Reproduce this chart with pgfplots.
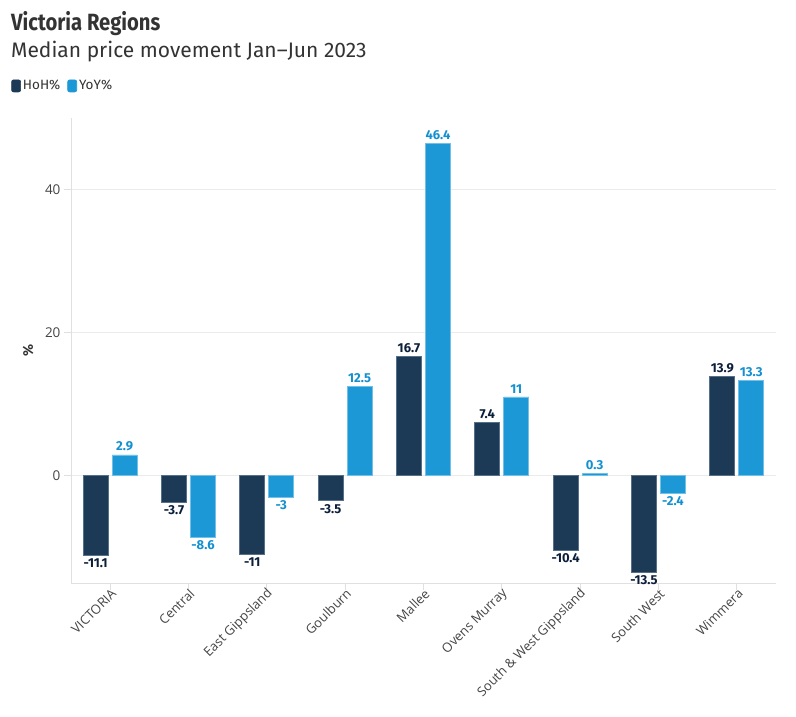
\documentclass[border=0pt]{standalone}
\usepackage{fontspec}
\setmainfont{Fira Sans}
\newfontfamily\ticksfont{Open Sans}
\usepackage{pgfplots}
\pgfplotsset{compat=1.18}
\definecolor{hoh}{HTML}{1C3A56}
\definecolor{hohedge}{HTML}{56708A}
\definecolor{hohlab}{HTML}{0B1F3A}
\definecolor{yoy}{HTML}{1B98D5}
\definecolor{yoyedge}{HTML}{72C0E8}
\definecolor{yoylab}{HTML}{1490D0}
\definecolor{gridc}{HTML}{EBEBEB}
\definecolor{axc}{HTML}{E0E0E0}
\definecolor{labc}{HTML}{444444}
\definecolor{titc}{HTML}{333333}
\begin{document}
\begin{tikzpicture}[x=1pt,y=1pt]
\path[use as bounding box] (0,0) rectangle (796,717);
\node[anchor=base west, inner sep=0, text=titc] at (11,686) {\fontsize{23.5}{26}\selectfont\bfseries\scalebox{0.86}[1]{Victoria Regions}};
\node[anchor=base west, inner sep=0, text=titc] at (11,659) {\fontsize{21}{24}\selectfont Median price movement Jan–Jun 2023};
\begin{axis}[
  at={(71pt,134pt)}, anchor=south west,
  scale only axis, width=705pt, height=465pt,
  ybar=4pt, bar width=25pt,
  xmin=-0.5, xmax=8.5, ymin=-15, ymax=50,
  xtick={0,...,8},
  xticklabels={VICTORIA,Central,East Gippsland,Goulburn,Mallee,Ovens Murray,South \& West Gippsland,South West,Wimmera},
  ytick={0,20,40},
  ymajorgrids, grid style={color=gridc, line width=0.8pt},
  axis x line*=bottom, axis y line*=left,
  axis line style={color=axc, line width=0.8pt},
  tick style={color=axc, line width=0.8pt},
  major tick length=7pt, tick align=outside,
  /pgf/number format/assume math mode=true,
  yticklabel style={font=\ticksfont\fontsize{13.5}{15}\selectfont, text=labc},
  xticklabel style={xshift=6pt, yshift=1pt, rotate=45, anchor=east, font=\ticksfont\fontsize{13}{15}\selectfont, text=labc},
  ylabel={\bfseries\%},
  every axis y label/.style={at={(axis description cs:-0.061,0.5)}, rotate=90, anchor=center, font=\fontsize{14}{16}\selectfont, text=titc},
  nodes near coords,
  nodes near coords style={font=\bfseries\fontsize{13}{15}\selectfont},
  legend style={at={(axis description cs:-0.085,1.069)}, anchor=west, draw=none, fill=none, inner sep=0pt,
    legend columns=2, font=\fontsize{13.5}{15}\selectfont, text=titc,
    /tikz/every even column/.append style={column sep=5pt}},
  legend cell align=left,
]
\addplot[fill=hoh, draw=hohedge, line width=0.7pt,
  every node near coord/.append style={text=hohlab},
  legend image code/.code={\fill[hoh, rounded corners=2pt] (0pt,-6pt) rectangle (9pt,6pt);}]
  coordinates {(0,-11.1) (1,-3.7) (2,-11) (3,-3.5) (4,16.7) (5,7.4) (6,-10.4) (7,-13.5) (8,13.9)};
\addlegendentry{HoH\%}
\addplot[fill=yoy, draw=yoyedge, line width=0.7pt,
  every node near coord/.append style={text=yoylab},
  legend image code/.code={\fill[yoy, rounded corners=2pt] (0pt,-6pt) rectangle (9pt,6pt);}]
  coordinates {(0,2.9) (1,-8.6) (2,-3) (3,12.5) (4,46.4) (5,11) (6,0.3) (7,-2.4) (8,13.3)};
\addlegendentry{YoY\%}
\end{axis}
\end{tikzpicture}
\end{document}
